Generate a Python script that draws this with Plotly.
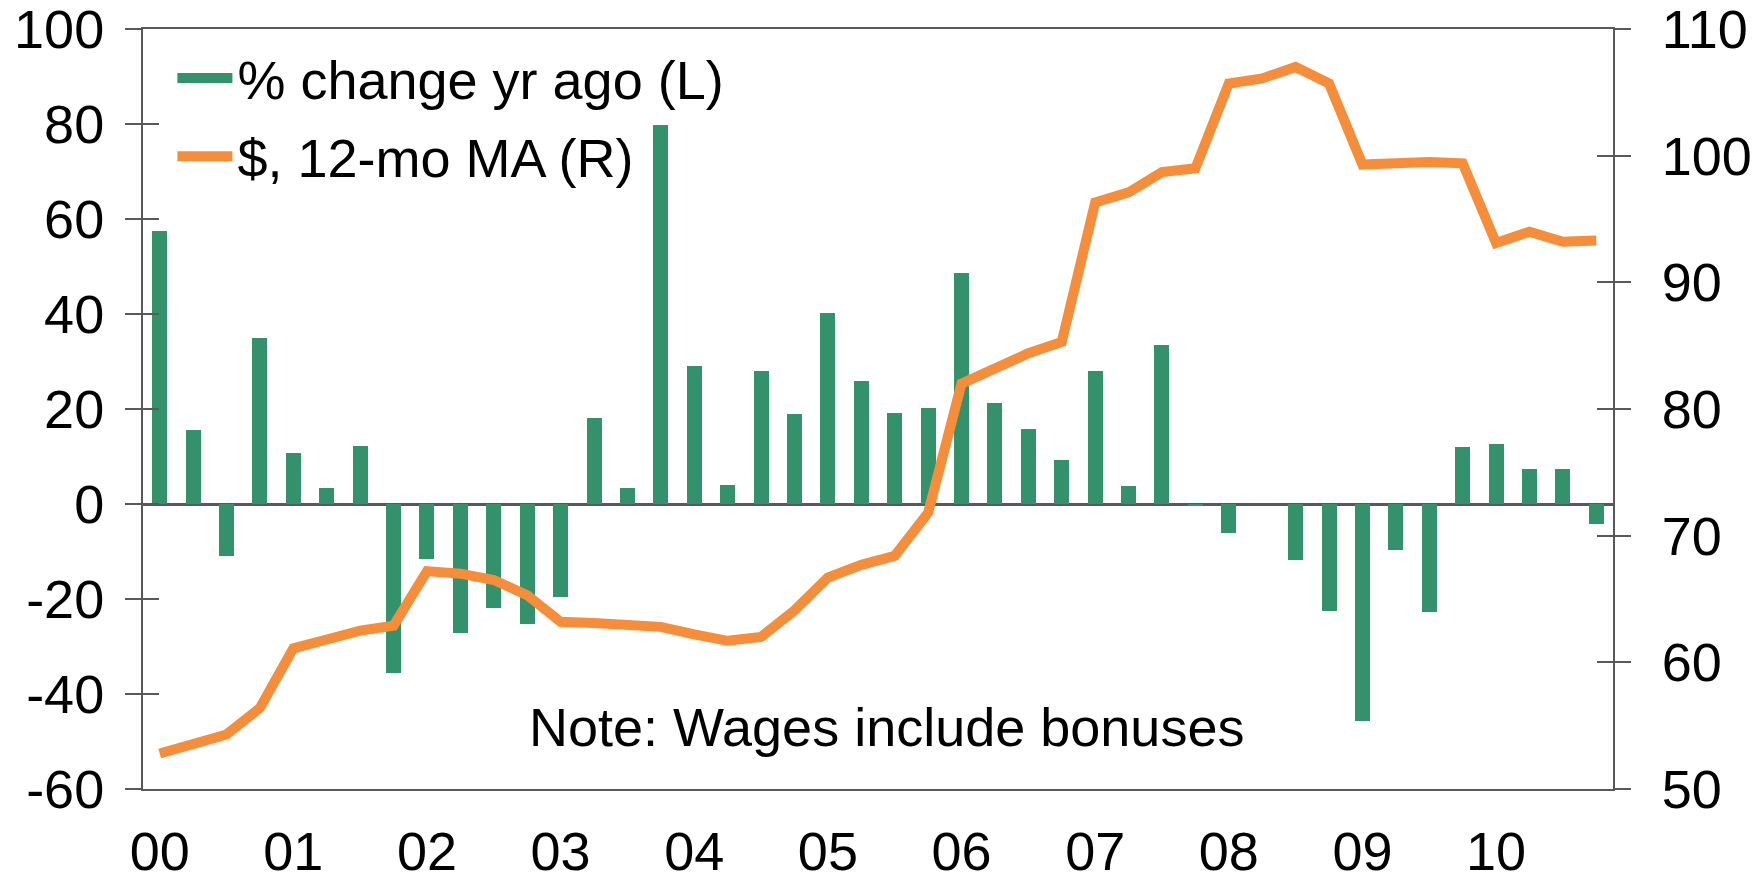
import plotly.graph_objects as go

quarters = [f"{y:02d}Q{q}" for y in range(0, 11) for q in range(1, 5)]

pct_change = [57.5, 15.6, -10.9, 35.0,
              10.7, 3.4, 12.2, -35.6,
              -11.6, -27.2, -21.9, -25.3,
              -19.6, 18.1, 3.4, 79.8,
              29.0, 4.0, 28.0, 19.0,
              40.2, 25.9, 19.1, 20.2,
              48.6, 21.3, 15.8, 9.3,
              27.9, 3.8, 33.5, -0.4,
              -6.1, 0.0, -11.8, -22.5,
              -45.7, -9.7, -22.7, 12.0,
              12.6, 7.4, 7.4, -4.2]

wage_ma = [52.8, 53.5, 54.3, 56.4,
           61.1, 61.8, 62.5, 62.9,
           67.2, 67.0, 66.5, 65.3,
           63.2, 63.1, 63.0, 62.8,
           62.2, 61.7, 62.0, 64.1,
           66.7, 67.7, 68.4, 71.8,
           82.0, 83.3, 84.4, 85.3,
           96.3, 97.1, 98.7, 99.0,
           105.7, 106.1, 107.0, 105.7,
           99.3, 99.4, 99.5, 99.4,
           93.1, 94.0, 93.2, 93.3]

year_ticks = [f"{y:02d}Q1" for y in range(0, 11)]
year_labels = [f"{y:02d}" for y in range(0, 11)]

left_ticks = [-60, -40, -20, 0, 20, 40, 60, 80, 100]
left_labels = [str(v) for v in left_ticks]
right_ticks = [50, 60, 70, 80, 90, 100, 110]
right_labels = [str(v) for v in right_ticks]

GREEN = "#33926B"
ORANGE = "#F68D3B"
AXIS = "#595959"
FONT = "Liberation Sans, Arial, sans-serif"
FS = 54

fig = go.Figure()
fig.add_trace(go.Bar(x=quarters, y=pct_change, name="% change yr ago (L)",
                     marker=dict(color=GREEN, line=dict(width=0)), width=0.45,
                     yaxis="y", showlegend=False))
# legend-only entry for the bars, drawn as a thick swatch
fig.add_trace(go.Scatter(x=[quarters[0]], y=[None], name="% change yr ago (L)", mode="lines",
                         line=dict(color=GREEN, width=27), yaxis="y", legend="legend",
                         hoverinfo="skip"))
fig.add_trace(go.Scatter(x=quarters, y=wage_ma, name="$, 12-mo MA (R)", mode="lines",
                         line=dict(color=ORANGE, width=10), yaxis="y2", legend="legend2"))
# helper traces so the inner halves of the crossing ticks get drawn
fig.add_trace(go.Scatter(x=[quarters[0]], y=[None], yaxis="y3", showlegend=False, hoverinfo="skip"))
fig.add_trace(go.Scatter(x=[quarters[0]], y=[None], yaxis="y4", showlegend=False, hoverinfo="skip"))

tick_common = dict(tickcolor=AXIS, tickwidth=2, ticklen=16, showgrid=False, automargin=False)

fig.update_layout(
    width=1756, height=875,
    margin=dict(l=135, r=151, t=21, b=94, autoexpand=False),
    paper_bgcolor="white", plot_bgcolor="white",
    font=dict(family=FONT, size=FS, color="black"),
    bargap=0,
    xaxis=dict(type="category", categoryorder="array", categoryarray=quarters,
               range=[-0.5, 43.5], tickmode="array", tickvals=year_ticks, ticktext=year_labels,
               ticks="", showline=True, linecolor=AXIS, linewidth=2, mirror=True,
               showgrid=False, ticklabelstandoff=14, automargin=False,
               ticklabeloverflow="allow"),
    yaxis=dict(range=[-60, 100], tickmode="array", tickvals=left_ticks, ticktext=left_labels,
               ticks="outside", showline=True, linecolor=AXIS, linewidth=2,
               zeroline=True, zerolinecolor=AXIS, zerolinewidth=2.5,
               ticklabelstandoff=10, ticklabeloverflow="allow", **tick_common),
    yaxis2=dict(range=[50, 110], tickmode="array", tickvals=right_ticks, ticktext=right_labels,
                ticks="outside", showline=True, linecolor=AXIS, linewidth=2,
                zeroline=False, overlaying="y", side="right",
                ticklabelstandoff=20, ticklabeloverflow="allow", **tick_common),
    yaxis3=dict(range=[-60, 100], tickvals=left_ticks, ticks="inside", showticklabels=False,
                zeroline=False, overlaying="y", side="left", showline=False, **tick_common),
    yaxis4=dict(range=[50, 110], tickvals=right_ticks, ticks="inside", showticklabels=False,
                zeroline=False, overlaying="y", side="right", showline=False, **tick_common),
    legend=dict(x=0.020, y=0.935, xanchor="left", yanchor="middle",
                bgcolor="rgba(0,0,0,0)", font=dict(size=FS), itemwidth=55),
    legend2=dict(x=0.020, y=0.832, xanchor="left", yanchor="middle",
                 bgcolor="rgba(0,0,0,0)", font=dict(size=FS), itemwidth=55),
    annotations=[dict(text="Note: Wages include bonuses", x=0.506, y=0.082,
                      xref="paper", yref="paper", xanchor="center", yanchor="middle",
                      showarrow=False, font=dict(size=FS))],
)

fig.write_html("out.html")
